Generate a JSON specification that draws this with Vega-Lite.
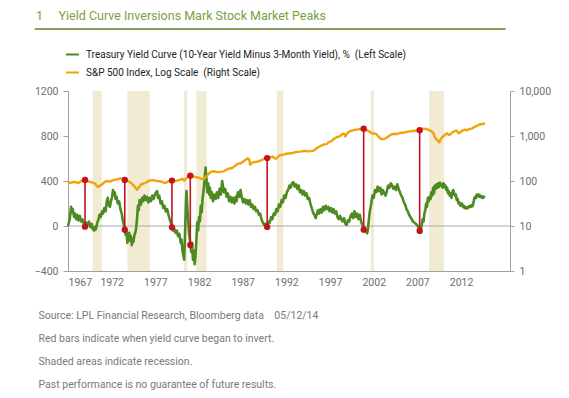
{
  "$schema": "https://vega.github.io/schema/vega-lite/v6.json",
  "width": 442,
  "height": 180,
  "autosize": {"type": "none"},
  "padding": {"left": 68, "top": 91, "right": 59, "bottom": 127},
  "background": "white",
  "title": {
    "text": "1\u00a0\u00a0\u00a0\u00a0\u00a0Yield Curve Inversions Mark Stock Market Peaks",
    "anchor": "start",
    "frame": "group",
    "dx": -32,
    "offset": 6,
    "font": "Roboto",
    "fontSize": 12.5,
    "fontWeight": "normal",
    "color": "#79a043"
  },
  "config": {
    "font": "Roboto",
    "view": {"stroke": null},
    "axis": {"grid": false, "domainColor": "#a0a0a0", "tickColor": "#a0a0a0", "labelColor": "#6e6e6e", "labelFontSize": 10.5, "labelFont": "Roboto"},
    "legend": {"orient": "none", "legendX": -3, "legendY": -44, "symbolType": "stroke", "symbolStrokeWidth": 2, "symbolSize": 169, "labelFontSize": 10, "labelColor": "#222222", "labelFont": "Roboto", "rowPadding": 5, "labelOffset": 6, "labelLimit": 500, "title": null}
  },
  "datasets": {
    "yc": [
      {"t":1967.0,"v":0},{"t":1967.2,"v":60},{"t":1967.35,"v":170},{"t":1967.45,"v":120},{"t":1967.55,"v":150},{"t":1967.7,"v":80},{"t":1967.8,"v":110},{"t":1967.95,"v":60},
      {"t":1968.05,"v":100},{"t":1968.2,"v":50},{"t":1968.35,"v":90},{"t":1968.5,"v":40},{"t":1968.65,"v":60},{"t":1968.8,"v":20},{"t":1968.95,"v":-5},
      {"t":1969.1,"v":30},{"t":1969.25,"v":10},{"t":1969.4,"v":40},{"t":1969.55,"v":-10},{"t":1969.7,"v":20},{"t":1969.85,"v":-30},{"t":1970.0,"v":-40},{"t":1970.1,"v":-10},{"t":1970.2,"v":-30},
      {"t":1970.35,"v":30},{"t":1970.5,"v":60},{"t":1970.6,"v":100},{"t":1970.75,"v":80},{"t":1970.9,"v":130},{"t":1971.0,"v":110},{"t":1971.15,"v":160},{"t":1971.3,"v":130},
      {"t":1971.45,"v":220},{"t":1971.55,"v":250},{"t":1971.65,"v":190},{"t":1971.8,"v":170},{"t":1971.95,"v":230},{"t":1972.05,"v":260},{"t":1972.15,"v":320},{"t":1972.25,"v":280},
      {"t":1972.35,"v":300},{"t":1972.45,"v":240},{"t":1972.55,"v":260},{"t":1972.7,"v":200},{"t":1972.85,"v":220},{"t":1973.0,"v":150},{"t":1973.15,"v":110},{"t":1973.3,"v":40},
      {"t":1973.45,"v":-10},{"t":1973.5,"v":-30},{"t":1973.6,"v":-80},{"t":1973.7,"v":-50},{"t":1973.8,"v":-150},{"t":1973.9,"v":-100},{"t":1974.0,"v":-60},{"t":1974.1,"v":-130},
      {"t":1974.2,"v":-90},{"t":1974.3,"v":-170},{"t":1974.4,"v":-120},{"t":1974.5,"v":-140},{"t":1974.6,"v":-80},{"t":1974.7,"v":-60},{"t":1974.8,"v":-20},{"t":1974.9,"v":60},
      {"t":1975.0,"v":180},{"t":1975.1,"v":140},{"t":1975.2,"v":230},{"t":1975.35,"v":190},{"t":1975.5,"v":250},{"t":1975.6,"v":220},{"t":1975.75,"v":270},{"t":1975.9,"v":230},
      {"t":1976.05,"v":260},{"t":1976.2,"v":210},{"t":1976.35,"v":250},{"t":1976.5,"v":220},{"t":1976.65,"v":270},{"t":1976.8,"v":240},{"t":1976.95,"v":280},{"t":1977.1,"v":300},
      {"t":1977.2,"v":310},{"t":1977.3,"v":250},{"t":1977.45,"v":270},{"t":1977.6,"v":200},{"t":1977.75,"v":220},{"t":1977.9,"v":160},{"t":1978.05,"v":180},{"t":1978.2,"v":130},
      {"t":1978.35,"v":150},{"t":1978.5,"v":100},{"t":1978.65,"v":60},{"t":1978.8,"v":20},{"t":1978.9,"v":-12},{"t":1979.0,"v":-40},{"t":1979.15,"v":-20},{"t":1979.3,"v":-60},
      {"t":1979.45,"v":-40},{"t":1979.6,"v":-90},{"t":1979.75,"v":-70},{"t":1979.9,"v":-150},{"t":1980.0,"v":-120},{"t":1980.1,"v":-220},{"t":1980.2,"v":-260},{"t":1980.3,"v":-300},
      {"t":1980.38,"v":-120},{"t":1980.45,"v":80},{"t":1980.52,"v":240},{"t":1980.57,"v":310},{"t":1980.65,"v":180},{"t":1980.75,"v":60},{"t":1980.85,"v":-60},{"t":1980.95,"v":-120},
      {"t":1981.0,"v":-169},{"t":1981.1,"v":-230},{"t":1981.2,"v":-150},{"t":1981.3,"v":-300},{"t":1981.4,"v":-220},{"t":1981.5,"v":-340},{"t":1981.6,"v":-260},{"t":1981.7,"v":-120},
      {"t":1981.8,"v":30},{"t":1981.9,"v":-40},{"t":1982.0,"v":80},{"t":1982.1,"v":40},{"t":1982.2,"v":180},{"t":1982.3,"v":120},{"t":1982.4,"v":240},{"t":1982.5,"v":300},
      {"t":1982.6,"v":380},{"t":1982.75,"v":520},{"t":1982.85,"v":420},{"t":1982.95,"v":300},{"t":1983.05,"v":380},{"t":1983.15,"v":280},{"t":1983.25,"v":340},{"t":1983.35,"v":250},
      {"t":1983.45,"v":300},{"t":1983.6,"v":220},{"t":1983.75,"v":280},{"t":1983.9,"v":240},{"t":1984.05,"v":300},{"t":1984.2,"v":250},{"t":1984.35,"v":330},{"t":1984.5,"v":280},
      {"t":1984.65,"v":400},{"t":1984.75,"v":350},{"t":1984.85,"v":300},{"t":1985.0,"v":330},{"t":1985.15,"v":260},{"t":1985.3,"v":290},{"t":1985.45,"v":220},{"t":1985.6,"v":260},
      {"t":1985.75,"v":210},{"t":1985.9,"v":250},{"t":1986.05,"v":200},{"t":1986.2,"v":260},{"t":1986.3,"v":220},{"t":1986.45,"v":300},{"t":1986.6,"v":260},{"t":1986.75,"v":320},
      {"t":1986.9,"v":250},{"t":1987.05,"v":210},{"t":1987.2,"v":240},{"t":1987.35,"v":200},{"t":1987.5,"v":230},{"t":1987.65,"v":190},{"t":1987.8,"v":230},{"t":1987.95,"v":170},
      {"t":1988.1,"v":190},{"t":1988.25,"v":150},{"t":1988.4,"v":170},{"t":1988.55,"v":130},{"t":1988.7,"v":140},{"t":1988.85,"v":100},{"t":1989.0,"v":110},{"t":1989.15,"v":60},
      {"t":1989.3,"v":30},{"t":1989.45,"v":10},{"t":1989.6,"v":20},{"t":1989.8,"v":-8},{"t":1989.95,"v":40},{"t":1990.1,"v":30},{"t":1990.25,"v":80},{"t":1990.4,"v":60},
      {"t":1990.55,"v":110},{"t":1990.7,"v":100},{"t":1990.85,"v":150},{"t":1991.0,"v":130},{"t":1991.15,"v":190},{"t":1991.3,"v":170},{"t":1991.45,"v":230},{"t":1991.6,"v":210},
      {"t":1991.75,"v":270},{"t":1991.9,"v":250},{"t":1992.05,"v":300},{"t":1992.2,"v":320},{"t":1992.35,"v":360},{"t":1992.5,"v":340},{"t":1992.65,"v":380},{"t":1992.8,"v":390},
      {"t":1992.95,"v":350},{"t":1993.1,"v":370},{"t":1993.25,"v":330},{"t":1993.4,"v":360},{"t":1993.55,"v":300},{"t":1993.7,"v":320},{"t":1993.85,"v":280},{"t":1994.0,"v":310},
      {"t":1994.15,"v":270},{"t":1994.3,"v":290},{"t":1994.45,"v":240},{"t":1994.6,"v":250},{"t":1994.75,"v":200},{"t":1994.9,"v":160},{"t":1995.05,"v":120},{"t":1995.2,"v":100},
      {"t":1995.35,"v":70},{"t":1995.5,"v":110},{"t":1995.6,"v":140},{"t":1995.75,"v":110},{"t":1995.9,"v":150},{"t":1996.05,"v":120},{"t":1996.2,"v":170},{"t":1996.35,"v":140},
      {"t":1996.5,"v":180},{"t":1996.65,"v":150},{"t":1996.8,"v":170},{"t":1996.95,"v":130},{"t":1997.1,"v":160},{"t":1997.25,"v":120},{"t":1997.4,"v":150},{"t":1997.55,"v":110},
      {"t":1997.7,"v":130},{"t":1997.85,"v":80},{"t":1998.0,"v":60},{"t":1998.15,"v":90},{"t":1998.3,"v":60},{"t":1998.45,"v":40},{"t":1998.6,"v":70},{"t":1998.75,"v":20},
      {"t":1998.9,"v":10},{"t":1999.05,"v":50},{"t":1999.2,"v":40},{"t":1999.35,"v":90},{"t":1999.5,"v":110},{"t":1999.65,"v":70},{"t":1999.8,"v":130},{"t":1999.95,"v":80},
      {"t":2000.1,"v":110},{"t":2000.25,"v":60},{"t":2000.4,"v":100},{"t":2000.55,"v":40},{"t":2000.7,"v":10},{"t":2000.85,"v":-33},{"t":2000.95,"v":-10},{"t":2001.1,"v":-50},
      {"t":2001.25,"v":-65},{"t":2001.35,"v":-20},{"t":2001.45,"v":60},{"t":2001.55,"v":130},{"t":2001.7,"v":190},{"t":2001.85,"v":270},{"t":2002.0,"v":250},{"t":2002.15,"v":320},
      {"t":2002.3,"v":300},{"t":2002.45,"v":350},{"t":2002.6,"v":310},{"t":2002.75,"v":340},{"t":2002.9,"v":280},{"t":2003.05,"v":320},{"t":2003.2,"v":290},{"t":2003.35,"v":270},
      {"t":2003.5,"v":310},{"t":2003.65,"v":360},{"t":2003.8,"v":340},{"t":2003.95,"v":380},{"t":2004.1,"v":360},{"t":2004.25,"v":330},{"t":2004.4,"v":350},{"t":2004.55,"v":320},
      {"t":2004.7,"v":370},{"t":2004.85,"v":330},{"t":2005.0,"v":300},{"t":2005.15,"v":270},{"t":2005.3,"v":250},{"t":2005.45,"v":210},{"t":2005.6,"v":190},{"t":2005.75,"v":150},
      {"t":2005.9,"v":130},{"t":2006.05,"v":100},{"t":2006.2,"v":80},{"t":2006.35,"v":60},{"t":2006.5,"v":40},{"t":2006.65,"v":30},{"t":2006.8,"v":20},{"t":2006.95,"v":10},
      {"t":2007.1,"v":-10},{"t":2007.26,"v":-44},{"t":2007.4,"v":-30},{"t":2007.5,"v":10},{"t":2007.6,"v":60},{"t":2007.7,"v":40},{"t":2007.8,"v":110},{"t":2007.9,"v":140},
      {"t":2008.0,"v":200},{"t":2008.1,"v":170},{"t":2008.2,"v":250},{"t":2008.3,"v":220},{"t":2008.4,"v":260},{"t":2008.5,"v":240},{"t":2008.6,"v":300},{"t":2008.7,"v":270},
      {"t":2008.8,"v":340},{"t":2008.9,"v":290},{"t":2009.0,"v":360},{"t":2009.1,"v":330},{"t":2009.2,"v":370},{"t":2009.3,"v":340},{"t":2009.4,"v":380},{"t":2009.5,"v":350},
      {"t":2009.6,"v":385},{"t":2009.7,"v":360},{"t":2009.8,"v":370},{"t":2009.9,"v":340},{"t":2010.0,"v":380},{"t":2010.1,"v":350},{"t":2010.2,"v":360},{"t":2010.3,"v":320},
      {"t":2010.4,"v":340},{"t":2010.5,"v":290},{"t":2010.6,"v":310},{"t":2010.7,"v":270},{"t":2010.8,"v":290},{"t":2010.9,"v":250},{"t":2011.0,"v":300},{"t":2011.1,"v":320},
      {"t":2011.2,"v":290},{"t":2011.3,"v":270},{"t":2011.4,"v":280},{"t":2011.5,"v":230},{"t":2011.6,"v":240},{"t":2011.7,"v":200},{"t":2011.8,"v":210},{"t":2011.9,"v":180},
      {"t":2012.0,"v":190},{"t":2012.1,"v":200},{"t":2012.2,"v":170},{"t":2012.3,"v":180},{"t":2012.4,"v":160},{"t":2012.5,"v":170},{"t":2012.6,"v":155},{"t":2012.7,"v":165},
      {"t":2012.8,"v":160},{"t":2012.9,"v":175},{"t":2013.0,"v":180},{"t":2013.1,"v":170},{"t":2013.2,"v":185},{"t":2013.3,"v":175},{"t":2013.4,"v":200},{"t":2013.5,"v":240},
      {"t":2013.6,"v":260},{"t":2013.7,"v":250},{"t":2013.8,"v":280},{"t":2013.9,"v":265},{"t":2014.0,"v":280},{"t":2014.1,"v":260},{"t":2014.2,"v":270},{"t":2014.3,"v":255},
      {"t":2014.4,"v":265},{"t":2014.5,"v":250},{"t":2014.6,"v":260},{"t":2014.75,"v":255}
    ],
    "sp": [
      {"t":1967.0,"v":88},{"t":1967.3,"v":92},{"t":1967.6,"v":95},{"t":1967.9,"v":94},{"t":1968.2,"v":90},{"t":1968.5,"v":100},{"t":1968.8,"v":104},{"t":1968.95,"v":106},
      {"t":1969.2,"v":100},{"t":1969.5,"v":96},{"t":1969.8,"v":92},{"t":1970.1,"v":88},{"t":1970.4,"v":74},{"t":1970.6,"v":78},{"t":1970.9,"v":84},{"t":1971.2,"v":96},
      {"t":1971.5,"v":100},{"t":1971.8,"v":97},{"t":1972.1,"v":103},{"t":1972.4,"v":107},{"t":1972.7,"v":110},{"t":1973.0,"v":114},{"t":1973.3,"v":108},{"t":1973.5,"v":106},
      {"t":1973.7,"v":104},{"t":1974.0,"v":96},{"t":1974.3,"v":88},{"t":1974.6,"v":76},{"t":1974.9,"v":64},{"t":1975.1,"v":72},{"t":1975.4,"v":86},{"t":1975.7,"v":88},
      {"t":1976.0,"v":94},{"t":1976.3,"v":102},{"t":1976.6,"v":104},{"t":1976.9,"v":103},{"t":1977.2,"v":100},{"t":1977.5,"v":99},{"t":1977.8,"v":95},{"t":1978.1,"v":90},
      {"t":1978.4,"v":96},{"t":1978.7,"v":102},{"t":1978.9,"v":100},{"t":1979.2,"v":100},{"t":1979.5,"v":102},{"t":1979.8,"v":106},{"t":1980.1,"v":112},{"t":1980.3,"v":102},
      {"t":1980.6,"v":118},{"t":1980.9,"v":128},{"t":1981.0,"v":131},{"t":1981.3,"v":128},{"t":1981.6,"v":122},{"t":1981.9,"v":120},{"t":1982.2,"v":112},{"t":1982.5,"v":110},
      {"t":1982.8,"v":124},{"t":1983.1,"v":145},{"t":1983.4,"v":162},{"t":1983.7,"v":165},{"t":1984.0,"v":160},{"t":1984.3,"v":157},{"t":1984.6,"v":162},{"t":1984.9,"v":166},
      {"t":1985.2,"v":180},{"t":1985.5,"v":190},{"t":1985.8,"v":195},{"t":1986.1,"v":215},{"t":1986.4,"v":240},{"t":1986.7,"v":245},{"t":1987.0,"v":265},{"t":1987.3,"v":295},
      {"t":1987.6,"v":320},{"t":1987.75,"v":300},{"t":1987.85,"v":230},{"t":1988.1,"v":255},{"t":1988.4,"v":265},{"t":1988.7,"v":270},{"t":1989.0,"v":285},{"t":1989.3,"v":300},
      {"t":1989.55,"v":320},{"t":1989.8,"v":325},{"t":1990.1,"v":335},{"t":1990.4,"v":350},{"t":1990.7,"v":315},{"t":1990.9,"v":320},{"t":1991.2,"v":370},{"t":1991.5,"v":380},
      {"t":1991.8,"v":390},{"t":1992.1,"v":410},{"t":1992.4,"v":410},{"t":1992.7,"v":418},{"t":1993.0,"v":435},{"t":1993.3,"v":445},{"t":1993.6,"v":450},{"t":1993.9,"v":460},
      {"t":1994.2,"v":465},{"t":1994.5,"v":455},{"t":1994.8,"v":460},{"t":1995.1,"v":470},{"t":1995.4,"v":520},{"t":1995.7,"v":570},{"t":1996.0,"v":610},{"t":1996.3,"v":650},
      {"t":1996.6,"v":660},{"t":1996.9,"v":740},{"t":1997.2,"v":780},{"t":1997.5,"v":880},{"t":1997.8,"v":950},{"t":1998.1,"v":980},{"t":1998.4,"v":1100},{"t":1998.6,"v":1130},
      {"t":1998.75,"v":980},{"t":1999.0,"v":1180},{"t":1999.3,"v":1280},{"t":1999.6,"v":1330},{"t":1999.9,"v":1380},{"t":2000.2,"v":1400},{"t":2000.5,"v":1430},{"t":2000.85,"v":1456},
      {"t":2001.0,"v":1420},{"t":2001.3,"v":1320},{"t":2001.6,"v":1230},{"t":2001.8,"v":1150},{"t":2002.0,"v":1140},{"t":2002.3,"v":1100},{"t":2002.6,"v":940},{"t":2002.9,"v":850},
      {"t":2003.2,"v":860},{"t":2003.4,"v":900},{"t":2003.7,"v":990},{"t":2004.0,"v":1080},{"t":2004.3,"v":1120},{"t":2004.6,"v":1110},{"t":2004.9,"v":1140},{"t":2005.2,"v":1180},
      {"t":2005.5,"v":1200},{"t":2005.8,"v":1230},{"t":2006.1,"v":1270},{"t":2006.4,"v":1290},{"t":2006.7,"v":1310},{"t":2007.0,"v":1330},{"t":2007.26,"v":1345},{"t":2007.5,"v":1400},
      {"t":2007.7,"v":1450},{"t":2008.0,"v":1440},{"t":2008.2,"v":1380},{"t":2008.4,"v":1350},{"t":2008.6,"v":1280},{"t":2008.8,"v":1200},{"t":2008.95,"v":980},{"t":2009.1,"v":870},
      {"t":2009.3,"v":800},{"t":2009.5,"v":720},{"t":2009.65,"v":840},{"t":2009.8,"v":920},{"t":2010.0,"v":1000},{"t":2010.2,"v":1080},{"t":2010.4,"v":1150},{"t":2010.6,"v":1050},
      {"t":2010.8,"v":1100},{"t":2011.0,"v":1200},{"t":2011.3,"v":1300},{"t":2011.5,"v":1320},{"t":2011.7,"v":1150},{"t":2011.9,"v":1200},{"t":2012.1,"v":1300},{"t":2012.4,"v":1380},
      {"t":2012.6,"v":1330},{"t":2012.9,"v":1420},{"t":2013.2,"v":1450},{"t":2013.5,"v":1580},{"t":2013.8,"v":1680},{"t":2014.1,"v":1800},{"t":2014.4,"v":1850},{"t":2014.75,"v":1900}
    ],
    "rec": [
      {"s":1969.82,"e":1970.87},{"s":1973.8,"e":1976.35},{"s":1980.28,"e":1980.66},{"s":1981.69,"e":1982.87},{"s":1990.9,"e":1991.65},{"s":2001.65,"e":2002.04},{"s":2008.34,"e":2010.05}
    ],
    "inv": [
      {"t":1968.95,"low":-6,"top":409},{"t":1973.5,"low":-33,"top":409},{"t":1978.9,"low":-12,"top":404},{"t":1981.0,"low":-169,"top":447},
      {"t":1989.8,"low":-8,"top":604},{"t":2000.85,"low":-33,"top":865},{"t":2007.26,"low":-44,"top":851}
    ],
    "one": [{"k": 1}]
  },
  "layer": [
    {
      "layer": [
        {
          "data": {"name": "rec"},
          "mark": {"type": "rect", "color": "#f1ebd4"},
          "encoding": {
            "x": {"field": "s", "type": "quantitative", "scale": {"domain": [1967, 2017.6], "nice": false, "zero": false},
              "axis": {"values": [1967,1972,1977,1982,1987,1992,1997,2002,2007,2012], "format": "d", "ticks": false, "labelPadding": 6,
                "title": ["Source: LPL Financial Research, Bloomberg data\u00a0\u00a0\u00a0\u00a005/12/14", "Red bars indicate when yield curve began to invert.", "Shaded areas indicate recession.", "Past performance is no guarantee of future results."],
                "titleAnchor": "start", "titleAlign": "left", "titleBaseline": "top", "titleX": -30, "titleY": 39, "titleLineHeight": 23,
                "titleFont": "Roboto", "titleFontSize": 10.5, "titleFontWeight": "normal", "titleColor": "#7a7a7a"}},
            "x2": {"field": "e"}
          }
        },
        {
          "data": {"name": "one"},
          "mark": {"type": "rule", "color": "#a8a8a8", "strokeWidth": 1},
          "encoding": {"y": {"datum": 0, "type": "quantitative"}}
        },
        {
          "data": {"name": "one"},
          "mark": {"type": "rule", "color": "#8e9e5e", "strokeWidth": 2, "clip": false},
          "encoding": {
            "x": {"datum": 1963.2, "type": "quantitative"},
            "x2": {"datum": 2017.1},
            "y": {"datum": 1751, "type": "quantitative"}
          }
        },
        {
          "data": {"name": "yc"},
          "mark": {"type": "line", "strokeWidth": 2.6, "strokeJoin": "round"},
          "encoding": {
            "x": {"field": "t", "type": "quantitative"},
            "y": {"field": "v", "type": "quantitative", "scale": {"domain": [-400, 1200], "nice": false, "zero": false},
              "axis": {"values": [-400, 0, 400, 800, 1200], "format": "d", "title": null, "tickSize": 5, "labelPadding": 5}},
            "color": {"datum": "Treasury Yield Curve (10-Year Yield Minus 3-Month Yield), %\u00a0\u00a0(Left Scale)", "type": "nominal",
              "scale": {"domain": ["Treasury Yield Curve (10-Year Yield Minus 3-Month Yield), %\u00a0\u00a0(Left Scale)", "S&P 500 Index, Log Scale\u00a0\u00a0(Right Scale)"], "range": ["#4e8a22", "#f0a30a"]}}
          }
        }
      ]
    },
    {
      "data": {"name": "sp"},
      "mark": {"type": "line", "strokeWidth": 2.4, "strokeJoin": "round"},
      "encoding": {
        "x": {"field": "t", "type": "quantitative"},
        "y": {"field": "v", "type": "quantitative", "scale": {"type": "log", "domain": [1, 10000], "nice": false},
          "axis": {"orient": "right", "values": [1, 10, 100, 1000, 10000], "format": ",d", "title": null, "tickSize": 4, "labelPadding": 5}},
        "color": {"datum": "S&P 500 Index, Log Scale\u00a0\u00a0(Right Scale)", "type": "nominal"}
      }
    },
    {
      "data": {"name": "inv"},
      "layer": [
        {
          "mark": {"type": "rule", "color": "#c4121f", "strokeWidth": 1.6},
          "encoding": {
            "x": {"field": "t", "type": "quantitative"},
            "y": {"field": "low", "type": "quantitative", "scale": {"domain": [-400, 1200], "nice": false, "zero": false}, "axis": null},
            "y2": {"field": "top"}
          }
        },
        {
          "mark": {"type": "point", "filled": true, "color": "#c4121f", "size": 40, "opacity": 1},
          "encoding": {
            "x": {"field": "t", "type": "quantitative"},
            "y": {"field": "low", "type": "quantitative"}
          }
        },
        {
          "mark": {"type": "point", "filled": true, "color": "#c4121f", "size": 40, "opacity": 1},
          "encoding": {
            "x": {"field": "t", "type": "quantitative"},
            "y": {"field": "top", "type": "quantitative"}
          }
        }
      ]
    }
  ],
  "resolve": {"scale": {"y": "independent"}}
}
